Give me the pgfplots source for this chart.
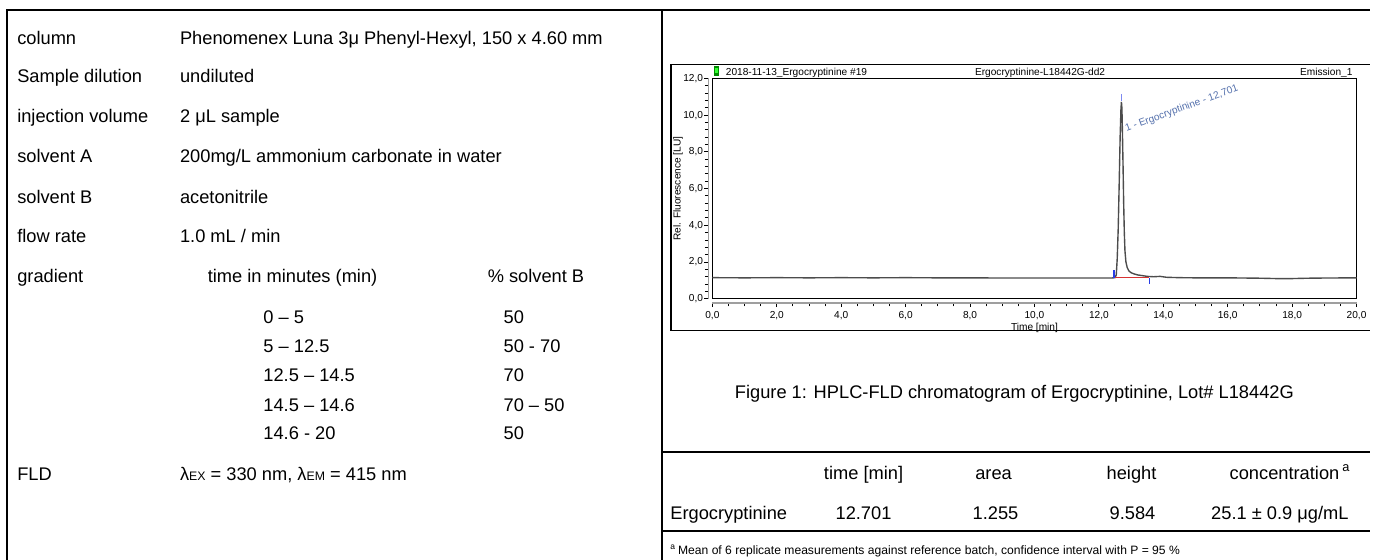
\documentclass[border=0pt]{standalone}
\usepackage{pgfplots}
\pgfplotsset{compat=1.18}
\usepackage{fontspec}
\setmainfont{Liberation Sans}
\definecolor{pkblue}{RGB}{84,112,172}
\definecolor{mkblue}{RGB}{40,60,230}
\definecolor{bred}{RGB}{215,50,50}
\newcommand\mf{\fontsize{9.2pt}{11pt}\selectfont}
\newcommand\smf{\fontsize{5.1pt}{6pt}\selectfont}
\newcommand\fnf{\fontsize{6.1pt}{7pt}\selectfont}
\begin{document}
\begin{tikzpicture}
\begin{scope}[x=0.5pt,y=-0.5pt]
\useasboundingbox (0,0) rectangle (1373,564);
% table borders
\draw[line width=1pt] (7,564) -- (7,10) -- (1380,10);
\draw[line width=1pt] (667,10) -- (667,564);
\draw[line width=1pt] (667,455.5) -- (1380,455.5);
\draw[line width=1pt] (667,535) -- (1380,535);
% left panel
\begin{scope}[every node/.style={anchor=base west,inner sep=0pt,font=\mf}]
\node at (17,44.6) {column};
\node at (181,44.6) {Phenomenex Luna 3μ Phenyl-Hexyl, 150 x 4.60 mm};
\node at (17,83.6) {Sample dilution};
\node at (181,83.6) {undiluted};
\node at (17,123.6) {injection volume};
\node at (181,123.6) {2 μL sample};
\node at (17,163.6) {solvent A};
\node at (181,163.6) {200mg/L ammonium carbonate in water};
\node at (17,204.6) {solvent B};
\node at (181,204.6) {acetonitrile};
\node at (17,244.6) {flow rate};
\node at (181,244.6) {1.0 mL / min};
\node at (17,284.6) {gradient};
\node at (209,284.6) {time in minutes (min)};
\node at (491,284.6) {\% solvent B};
\node at (265,325.6) {0 – 5};        \node at (507,325.6) {50};
\node at (265,355.6) {5 – 12.5};     \node at (507,355.6) {50 - 70};
\node at (265,384.6) {12.5 – 14.5};  \node at (507,384.6) {70};
\node at (265,414.6) {14.5 – 14.6};  \node at (507,414.6) {70 – 50};
\node at (265,442.6) {14.6 - 20};    \node at (507,442.6) {50};
\node at (17,483.6) {FLD};
\node at (181,483.6) {λ{\fontsize{6.2pt}{7pt}\selectfont EX} = 330 nm, λ{\fontsize{6.2pt}{7pt}\selectfont EM} = 415 nm};
\end{scope}
% caption
\node[anchor=base,inner sep=0pt,font=\mf] at (1022,401.6) {Figure 1: HPLC-FLD chromatogram of Ergocryptinine, Lot\# L18442G};
% results table
\begin{scope}[every node/.style={anchor=base,inner sep=0pt,font=\mf}]
\node at (870,482.6) {time [min]};
\node at (1001,482.6) {area};
\node at (1140,482.6) {height};
\node[anchor=base east] at (1361,482.6) {concentration\,\textsuperscript{a}};
\node[anchor=base west] at (675,523.6) {Ergocryptinine};
\node at (870,523.6) {12.701};
\node at (1003,523.6) {1.255};
\node at (1141,523.6) {9.584};
\node[anchor=base east] at (1359,523.6) {25.1 ± 0.9 μg/mL};
\end{scope}
\node[anchor=base west,inner sep=0pt,font=\fnf] at (675,559) {\textsuperscript{a}\,Mean of 6 replicate measurements against reference batch, confidence interval with P = 95 \%};
% chromatogram frame and header
\draw[line width=0.6pt] (1380,65) -- (676,65) -- (676,333) -- (1380,333);
\fill[green!55!black] (719,66) rectangle (724,77);
\fill[green!80!white] (720,69) rectangle (723,74);
\node[anchor=base west,inner sep=0pt,font=\smf] at (731,75.7) {2018-11-13\_Ergocryptinine \#19};
\node[anchor=base west,inner sep=0pt,font=\smf] at (982,75.7) {Ergocryptinine-L18442G-dd2};
\node[anchor=base east,inner sep=0pt,font=\smf] at (1363,75.7) {Emission\_1};
\end{scope}
\begin{axis}[
  at={(358.85pt,-150.5pt)}, anchor=south west,
  width=324.5pt, height=111pt, scale only axis,
  xmin=0, xmax=20, ymin=0, ymax=12,
  axis x line*=bottom, axis y line*=left,
  axis x line shift=2pt, axis y line shift=2pt,
  axis line style={draw=gray!75, line width=0.8pt, -},
  tick align=outside,
  xtick={0,2,...,20}, ytick={0,2,...,12},
  minor x tick num=3, minor y tick num=4,
  major tick length=2.2pt, minor tick length=1.8pt,
  every tick/.style={black, line width=0.5pt},
  ticklabel style={font=\smf},
  xticklabel style={yshift=1.5pt},
  yticklabel style={xshift=3pt},
  /pgf/number format/fixed,
  /pgf/number format/fixed zerofill,
  /pgf/number format/precision=1,
  /pgf/number format/use comma,
  /pgf/number format/assume math mode=true,
  xlabel={Time [min]}, ylabel={Rel. Fluorescence [LU]},
  label style={font=\smf},
  xlabel style={yshift=4.8pt},
  ylabel style={yshift=-6.6pt},
  clip=false,
]
\draw[black, line width=0.7pt] (rel axis cs:0,0) rectangle (rel axis cs:1,1);
\addplot[draw=black!70, line width=0.7pt] coordinates {
(0,1.15) (1,1.14) (2,1.15) (3,1.14) (4,1.15) (5,1.14) (6,1.15) (7,1.14) (8,1.14) (9,1.13) (10,1.13) (11,1.13) (12,1.13) (12.4,1.13) (12.5,1.15) (12.54,1.3) (12.57,2.2) (12.6,3.8) (12.63,6.2) (12.66,8.8) (12.685,10.3) (12.70,10.72) (12.715,10.4) (12.73,9.2) (12.75,7.3) (12.77,5.2) (12.79,3.6) (12.81,2.6) (12.84,2.0) (12.88,1.7) (12.93,1.52) (13.0,1.42) (13.1,1.35) (13.2,1.3) (13.35,1.26) (13.5,1.22) (13.7,1.2) (13.9,1.22) (14.1,1.17) (14.5,1.15) (15,1.14) (16,1.14) (17,1.12) (17.5,1.1) (18,1.1) (18.5,1.12) (19,1.13) (20,1.14)};
\addplot[bred, line width=0.5pt] coordinates {(12.47,1.14) (13.56,1.14)};
\addplot[mkblue, line width=0.6pt] coordinates {(12.47,1.14) (12.47,1.55)};
\addplot[mkblue, line width=0.6pt] coordinates {(13.56,1.14) (13.56,0.8)};
\addplot[mkblue!60!white, line width=0.6pt] coordinates {(12.70,10.78) (12.70,11.15)};
\node[rotate=20, anchor=base west, inner sep=0pt, text=pkblue, font=\smf] at (axis cs:12.85,9.1) {1 - Ergocryptinine - 12,701};
\end{axis}
\end{tikzpicture}
\end{document}
